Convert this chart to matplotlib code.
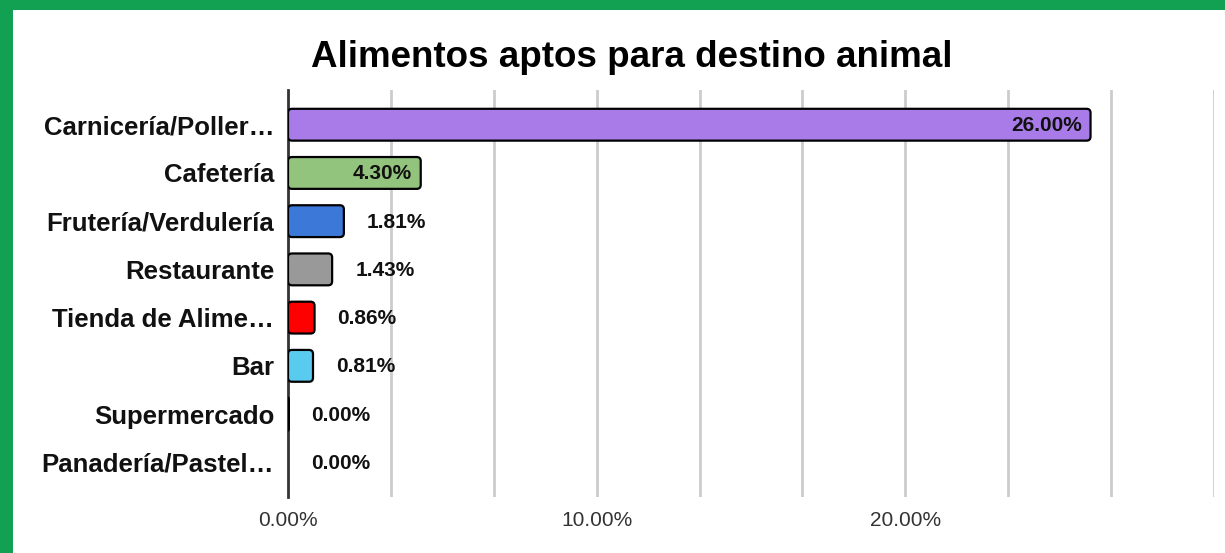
import numpy as np
import matplotlib.pyplot as plt
from matplotlib import patches

plt.rcParams['font.family'] = ['Liberation Sans', 'DejaVu Sans']

# data
categorias = ['Carnicería/Poller…', 'Cafetería', 'Frutería/Verdulería', 'Restaurante',
              'Tienda de Alime…', 'Bar', 'Supermercado', 'Panadería/Pastel…']
valores = [26.00, 4.30, 1.81, 1.43, 0.86, 0.81, 0.004, 0.0]
colores = ['#a97be8', '#93c47d', '#3c78d8', '#999999', '#ff0000', '#59cbef', '#3c78d8', '#999999']
xticks = [0, 10, 20]
xticklabels = ['0.00%', '10.00%', '20.00%']

W, H = 1225, 553
fig = plt.figure(figsize=(W / 100, H / 100), dpi=100)
ax = fig.add_axes([288 / W, 1 - 497 / H, (1214 - 288) / W, (497 - 90) / H])

y = np.arange(len(categorias))
bars = ax.barh(y, valores, height=0.66, color=colores)

ax.set_xlim(0, 30)
ax.set_ylim(len(categorias) - 1 + 0.72, -0.72)

# pixel sizes of a data unit, used for round corners
px_x = (1214 - 288) / 30.0
px_y = (497 - 90) / (len(categorias) - 1 + 1.44)
r_px = 4

for b, c in zip(bars, colores):
    w = b.get_width()
    b.set_visible(False)
    if w <= 0:
        continue
    rs = min(r_px / px_x, w / 2)
    fb = patches.FancyBboxPatch((b.get_x(), b.get_y()), w, b.get_height(),
                                boxstyle=f'round,pad=0,rounding_size={rs}',
                                mutation_aspect=px_x / px_y,
                                fc=c, ec='black', lw=1.6 if w > 0.1 else 2.2, zorder=3)
    ax.add_patch(fb)

# value labels
for yi, v in zip(y, valores):
    txt = f'{v:.2f}%'
    if v >= 3:
        ax.annotate(txt, (v, yi), xytext=(-9, -1), textcoords='offset pixels',
                    ha='right', va='center', fontsize=15, fontweight='bold',
                    color='#111111', zorder=4)
    else:
        ax.annotate(txt, (v, yi), xytext=(23, -1), textcoords='offset pixels',
                    ha='left', va='center', fontsize=15, fontweight='bold',
                    color='#111111', zorder=4)

# grid every 10/3 %
for gx in np.arange(1, 10) * 10 / 3:
    ax.axvline(gx, color='#cccccc', lw=2, zorder=1)

ax.set_xticks(xticks)
ax.set_xticklabels(xticklabels, fontsize=15, color='#333333')
ax.set_yticks(y)
ax.set_yticklabels(categorias, fontsize=18.5, fontweight='bold', color='#111111')
ax.tick_params(axis='x', length=0, pad=10)
ax.tick_params(axis='y', length=0, pad=10)

for s in ['top', 'right', 'bottom']:
    ax.spines[s].set_visible(False)
ax.spines['left'].set_color('#333333')
ax.spines['left'].set_linewidth(2)
ax.spines['left'].set_zorder(2)

fig.text(631.5 / W, 1 - 67 / H, 'Alimentos aptos para destino animal',
         ha='center', va='baseline', fontsize=26.5, fontweight='bold', color='black')

# green frame
green = '#12a052'
fig.patches.append(patches.Rectangle((0, 0), 13 / W, 1, transform=fig.transFigure,
                                     fc=green, ec='none'))
fig.patches.append(patches.Rectangle((0, 1 - 10 / H), 1, 10 / H, transform=fig.transFigure,
                                     fc=green, ec='none'))

fig.savefig('out.png', dpi=100)
